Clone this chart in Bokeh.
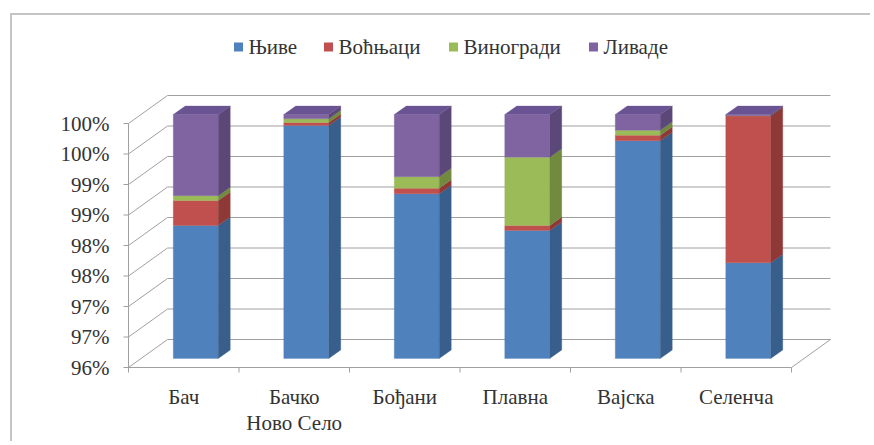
from bokeh.plotting import figure
from bokeh.models import Range1d, FixedTicker, ColumnDataSource
from bokeh.core.properties import value
from bokeh.embed import file_html
from bokeh.resources import INLINE

# ---------------- data ----------------
categories = ["Бач", "Бачко\nНово Село", "Бођани", "Плавна", "Вајска", "Селенча"]
series_names = ["Њиве", "Воћњаци", "Виногради", "Ливаде"]
njive = [98.18, 99.82, 98.70, 98.10, 99.57, 97.57]
vocnjaci = [0.41, 0.05, 0.09, 0.08, 0.09, 2.41]
vinogradi = [0.08, 0.06, 0.19, 1.12, 0.08, 0.00]
livade = [1.33, 0.07, 1.02, 0.70, 0.26, 0.02]
y_ticks = [96.0, 96.5, 97.0, 97.5, 98.0, 98.5, 99.0, 99.5, 100.0]
y_tick_labels = ["96%", "97%", "97%", "98%", "98%", "99%", "99%", "100%", "100%"]
Y_MIN, Y_MAX = 96.0, 100.0

# ---------------- styles / layout ----------------
front_colors = ["#4F81BD", "#C0504D", "#9BBB59", "#8064A2"]
side_colors = ["#385E8C", "#8E3936", "#718A40", "#5C4878"]
top_color = "#6A5392"
grid_color = "#a0a0a0"
text_color = "#333333"
FONT = "Liberation Serif"
FSIZE = "21px"
TEXT_TOP_TO_MID = 11.8          # px from em-box top to middle of capitals (21px)

ORIGIN_X, ORIGIN_Y = 12, 15     # page position of the canvas (css margins)
W, H = 860, 428
MB_B = 68
PXX, PXY = 110.5, 61.0          # pixels per category / per percent
AXIS_PX_X, AXIS_PX_Y = 128, 367 # page pixel of the front axes corner
frame_w, frame_h = W, H - MB_B

def xd(px):                      # page pixel -> data x
    return (px - AXIS_PX_X) / PXX

def yd(py):                      # page pixel -> data y
    return Y_MIN + (AXIS_PX_Y - py) / PXY

x0 = xd(ORIGIN_X)
y0 = yd(ORIGIN_Y + frame_h)

# depth offsets (pixels -> data units)
wx, wy = 39 / PXX, 28 / PXY     # back wall
fx, fy = 12 / PXX, 9 / PXY      # bar front face
bx, by = 12 / PXX, 8.5 / PXY    # bar depth
hw = 22.5 / PXX                 # bar half-width

legend_key_px = [238, 328, 453, 593]
legend_px_y = 46

p = figure(width=W, height=H, output_backend="svg", toolbar_location=None,
           x_range=Range1d(x0, x0 + frame_w / PXX),
           y_range=Range1d(y0, y0 + frame_h / PXY),
           y_axis_location=None,
           min_border_left=0, min_border_right=0, min_border_top=0,
           min_border_bottom=MB_B)
# chart-area border (grey line on left and top)
p.styles = {"margin-left": f"{ORIGIN_X}px", "margin-top": f"{ORIGIN_Y}px",
            "background-color": "white",
            "box-shadow": "-2px -2px 0 0 #c4c4c4"}
p.xgrid.visible = False
p.ygrid.visible = False
p.outline_line_color = None
p.background_fill_color = "white"
p.border_fill_color = "white"

n = len(categories)

# ---------------- category axis ----------------
p.xaxis.ticker = FixedTicker(ticks=[i + 0.5 for i in range(n)])
p.xaxis.major_label_overrides = {i + 0.5: c for i, c in enumerate(categories)}
xa = p.xaxis[0]
xa.axis_line_color = None
xa.major_tick_line_color = None
xa.minor_tick_line_color = None
xa.major_tick_out = 0
xa.major_tick_in = 0
xa.major_label_text_font = FONT
xa.major_label_text_font_size = FSIZE
xa.major_label_text_color = text_color
xa.major_label_text_line_height = 1.1
xa.major_label_standoff = 9

# ---------------- value axis labels ----------------
p.text(x=[xd(109)] * len(y_ticks), y=[t + TEXT_TOP_TO_MID / PXY for t in y_ticks],
       text=y_tick_labels, text_align="right", text_baseline="top",
       text_font=value(FONT), text_font_size=FSIZE, text_color=text_color)

# ---------------- walls, floor, gridlines ----------------
seg_x0, seg_y0, seg_x1, seg_y1 = [], [], [], []
for t in y_ticks:
    seg_x0.append(0); seg_y0.append(t); seg_x1.append(wx); seg_y1.append(t + wy)
    seg_x0.append(wx); seg_y0.append(t + wy); seg_x1.append(n + wx); seg_y1.append(t + wy)
    seg_x0.append(-5 / PXX); seg_y0.append(t); seg_x1.append(0); seg_y1.append(t)
seg_x0.append(n); seg_y0.append(Y_MIN); seg_x1.append(n + wx); seg_y1.append(Y_MIN + wy)
seg_x0.append(0); seg_y0.append(Y_MIN); seg_x1.append(0); seg_y1.append(Y_MAX)
seg_x0.append(0); seg_y0.append(Y_MIN); seg_x1.append(n); seg_y1.append(Y_MIN)
for i in range(n + 1):
    seg_x0.append(i); seg_y0.append(Y_MIN); seg_x1.append(i); seg_y1.append(Y_MIN - 5 / PXY)
p.segment(seg_x0, seg_y0, seg_x1, seg_y1, line_color=grid_color, line_width=1)

# ---------------- 3D stacked bars ----------------
series = [njive, vocnjaci, vinogradi, livade]
bottoms = [Y_MIN] * n
for k, vals in enumerate(series):
    lefts, rights, bots, tops = [], [], [], []
    sxs, sys = [], []
    for i in range(n):
        b = bottoms[i]
        t = vals[i] if k == 0 else b + vals[i]
        c = i + 0.5 + fx
        L, R = c - hw, c + hw
        lefts.append(L); rights.append(R); bots.append(b + fy); tops.append(t + fy)
        sxs.append([R, R, R + bx, R + bx])
        sys.append([b + fy, t + fy, t + fy + by, b + fy + by])
        bottoms[i] = t
    src = ColumnDataSource(dict(left=lefts, right=rights, bottom=bots, top=tops))
    p.quad(left="left", right="right", bottom="bottom", top="top", source=src,
           fill_color=front_colors[k], line_color=front_colors[k], line_width=0.3)
    p.patches(sxs, sys, fill_color=side_colors[k], line_color=side_colors[k], line_width=0.3)

txs, tys = [], []
for i in range(n):
    c = i + 0.5 + fx
    L, R = c - hw, c + hw
    T = bottoms[i] + fy
    txs.append([L, R, R + bx, L + bx])
    tys.append([T, T, T + by, T + by])
p.patches(txs, tys, fill_color=top_color, line_color=top_color, line_width=0.3)

# ---------------- legend ----------------
p.rect(x=[xd(px) for px in legend_key_px], y=[yd(legend_px_y + 0.5)] * 4,
       width=9, height=9, width_units="screen", height_units="screen",
       fill_color=front_colors, line_color=None)
p.text(x=[xd(px + 10) for px in legend_key_px],
       y=[yd(legend_px_y - TEXT_TOP_TO_MID)] * 4,
       text=series_names, text_align="left", text_baseline="top",
       text_font=value(FONT), text_font_size=FSIZE, text_color=text_color)

open("out.html", "w").write(file_html(p, INLINE))
